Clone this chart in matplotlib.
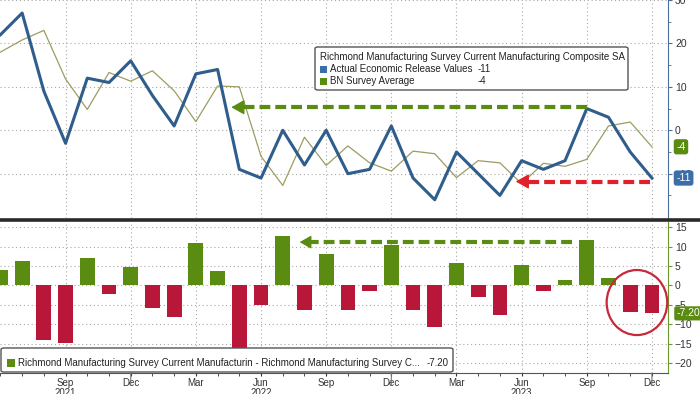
import matplotlib
matplotlib.use('Agg')
import matplotlib.pyplot as plt
from matplotlib.patches import Rectangle, FancyBboxPatch, Ellipse
from matplotlib.lines import Line2D

plt.rcParams['font.family'] = ['Liberation Sans', 'DejaVu Sans']

# monthly data, Jun 2021 .. Dec 2023
months = ['Jun', 'Jul', 'Aug', 'Sep', 'Oct', 'Nov', 'Dec',
          'Jan', 'Feb', 'Mar', 'Apr', 'May', 'Jun', 'Jul', 'Aug', 'Sep', 'Oct', 'Nov', 'Dec',
          'Jan', 'Feb', 'Mar', 'Apr', 'May', 'Jun', 'Jul', 'Aug', 'Sep', 'Oct', 'Nov', 'Dec']
actual = [22, 27, 9, -3, 12, 11, 16,
          8, 1, 13, 14, -9, -11, 0, -8, 0, -10, -9, 1,
          -11, -16, -5, -10, -15, -7, -9, -7, 5, 3, -5, -11]
survey = [18, 20.8, 23, 11.8, 4.8, 13.3, 11.3,
          13.7, 9.1, 2, 10.2, 10, -6, -12.7, -1.6, -8.1, -3.6, -7.5, -9.4,
          -4.8, -5.4, -10.9, -7, -7.5, -12.3, -7.6, -8.3, -6.7, 1, 1.9, -3.8]
surprise = [4, 6.2, -14, -14.8, 7.2, -2.3, 4.7,
            -5.7, -8.1, 11, 3.8, -19, -5, 12.7, -6.4, 8.1, -6.4, -1.5, 10.4,
            -6.2, -10.6, 5.9, -3, -7.5, 5.3, -1.4, 1.3, 11.7, 2, -6.9, -7.2]
years = {3: '2021', 12: '2022', 24: '2023'}

x = list(range(len(months)))
quarter_ticks = list(range(3, len(months), 3))

BLUE = '#2f5d8c'
OLIVE = '#9c9c62'
GREEN = '#5a8c12'
RED = '#b8173a'
GRID = '#a8a8a8'

W, H = 700, 394
def fx(px):
    return px / W
def fy(py):
    return 1 - py / H

fig = plt.figure(figsize=(7, 3.94), dpi=100)
ax1 = fig.add_axes([0, fy(218), fx(668), (218) / H])
ax2 = fig.add_axes([0, fy(373), fx(668), (373 - 222) / H])

for ax in (ax1, ax2):
    ax.set_xlim(-0.02, 30.74)
    ax.yaxis.tick_right()
    ax.spines['left'].set_visible(False)
    ax.spines['top'].set_visible(False)
    ax.set_xticks(quarter_ticks)
    ax.set_xticks(x, minor=True)
    ax.grid(True, which='major', linestyle=(0, (1, 2.5)), color=GRID, linewidth=0.8)
    ax.tick_params(axis='y', labelsize=7.5, length=3, pad=2, colors='#333333')

# top panel
ax1.plot(x, survey, color=OLIVE, linewidth=0.9, zorder=3)
ax1.plot(x, actual, color=BLUE, linewidth=2.2, zorder=4)
ax1.set_ylim(-20.2, 29.8)
ax1.set_yticks([-10, 0, 10, 20, 30])
ax1.set_yticks([-15, -5, 5, 15, 25], minor=True)
ax1.spines['bottom'].set_visible(False)
ax1.spines['right'].set_color('#4a6f9a')
ax1.tick_params(axis='y', which='both', color='#4a6f9a')
ax1.tick_params(axis='y', which='minor', length=2)
ax1.tick_params(axis='x', which='both', length=0, labelbottom=False)

# dashed arrows top
ax1.plot([27, 11.2], [5.3, 5.3], color=GREEN, linewidth=3, linestyle=(0, (2.6, 1.2)), zorder=5)
ax1.annotate('', xy=(10.5, 5.3), xytext=(11.4, 5.3),
             arrowprops=dict(arrowstyle='-|>,head_length=0.8,head_width=0.45', color=GREEN, lw=1), zorder=5)
ax1.plot([29.9, 24.3], [-11.8, -11.8], color='#e0202a', linewidth=3, linestyle=(0, (2.6, 1.2)), zorder=5)
ax1.annotate('', xy=(23.6, -11.8), xytext=(24.5, -11.8),
             arrowprops=dict(arrowstyle='-|>,head_length=0.8,head_width=0.45', color='#e0202a', lw=1), zorder=5)

# value tags top
ax1.annotate('-4', xy=(1, survey[-1]), xycoords=('axes fraction', 'data'), xytext=(6, 0),
             textcoords='offset points', va='center', ha='left', color='white', fontsize=7.5,
             bbox=dict(boxstyle='round,pad=0.25', fc=GREEN, ec='none'), annotation_clip=False)
ax1.annotate('-11', xy=(1, actual[-1]), xycoords=('axes fraction', 'data'), xytext=(6, 0),
             textcoords='offset points', va='center', ha='left', color='white', fontsize=7.5,
             bbox=dict(boxstyle='round,pad=0.25', fc='#3c6ea8', ec='none'), annotation_clip=False)

# bottom panel
bar_colors = [GREEN if v >= 0 else RED for v in surprise]
ax2.bar(x, surprise, width=0.68, color=bar_colors, zorder=3)
ax2.set_ylim(-22.6, 16.4)
ax2.set_yticks([-20, -15, -10, -5, 0, 5, 10, 15])
ax2.spines['right'].set_color('#6a9a2a')
ax2.spines['bottom'].set_color('#555555')
ax2.tick_params(axis='y', color='#6a9a2a')
ax2.set_xticklabels([months[i] for i in quarter_ticks])
ax2.tick_params(axis='x', which='both', direction='out', length=2.5, pad=1, labelsize=7, colors='#333333')

for i, yr in years.items():
    ax2.annotate(yr, xy=(i, 0), xycoords=('data', 'axes fraction'), xytext=(0, -14.5),
                 textcoords='offset points', ha='center', va='center', fontsize=7, color='#333333',
                 annotation_clip=False)
for i in (6, 18, 30):
    ax2.annotate('', xy=(i, 0), xycoords=('data', 'axes fraction'), xytext=(0, -9),
                 textcoords='offset points',
                 arrowprops=dict(arrowstyle='-', color='#777777', lw=0.8, shrinkA=0, shrinkB=0),
                 annotation_clip=False)

ax2.plot([26.3, 14.3], [11.2, 11.2], color=GREEN, linewidth=3, linestyle=(0, (2.6, 1.2)), zorder=5)
ax2.annotate('', xy=(13.65, 11.2), xytext=(14.5, 11.2),
             arrowprops=dict(arrowstyle='-|>,head_length=0.7,head_width=0.4', color=GREEN, lw=1), zorder=5)
ax2.add_patch(Ellipse((29.31, -4.4), 2.79, 16.8, fill=False, edgecolor='#c8283a', lw=1.6,
                      clip_on=False, zorder=6))
ax2.annotate('-7.20', xy=(1, surprise[-1]), xycoords=('axes fraction', 'data'), xytext=(6, 0),
             textcoords='offset points', va='center', ha='left', color='white', fontsize=7.5,
             bbox=dict(boxstyle='round,pad=0.2', fc=GREEN, ec='none'), annotation_clip=False)

# separator between panels
fig.add_artist(Line2D([0, 1], [fy(220), fy(220)], transform=fig.transFigure, color='#2a2a2a', lw=2.6))

# top legend
fig.add_artist(FancyBboxPatch((fx(315), fy(90)), fx(313), 43 / H, boxstyle='round,pad=0,rounding_size=0.004',
                              transform=fig.transFigure, fc='white', ec='#555555', lw=1, zorder=10))
fig.text(fx(320), fy(57), 'Richmond Manufacturing Survey Current Manufacturing Composite SA',
         fontsize=7, va='center', color='#222222', zorder=11)
for yy, col, lab, val in [(69.5, '#3c6ea8', 'Actual Economic Release Values', '-11'),
                          (81.5, GREEN, 'BN Survey Average', '-4')]:
    fig.add_artist(Rectangle((fx(320), fy(yy + 3.5)), 7 / W, 7 / H, transform=fig.transFigure,
                             fc=col, ec='none', zorder=11))
    fig.text(fx(330), fy(yy), lab, fontsize=7, va='center', color='#222222', zorder=11)
    fig.text(fx(478), fy(yy), val, fontsize=7, va='center', color='#222222', zorder=11)

# bottom legend
fig.add_artist(FancyBboxPatch((fx(1), fy(372)), fx(452), 24 / H, boxstyle='round,pad=0,rounding_size=0.004',
                              transform=fig.transFigure, fc='white', ec='#555555', lw=1, zorder=10))
fig.add_artist(Rectangle((fx(7), fy(367)), 8 / W, 8 / H, transform=fig.transFigure,
                         fc=GREEN, ec='none', zorder=11))
fig.text(fx(18), fy(362.5),
         'Richmond Manufacturing Survey Current Manufacturin - Richmond Manufacturing Survey C...',
         fontsize=7, va='center', color='#222222', zorder=11)
fig.text(fx(427), fy(362.5), '-7.20', fontsize=7, va='center', color='#222222', zorder=11)

fig.savefig('out.png', dpi=100)
